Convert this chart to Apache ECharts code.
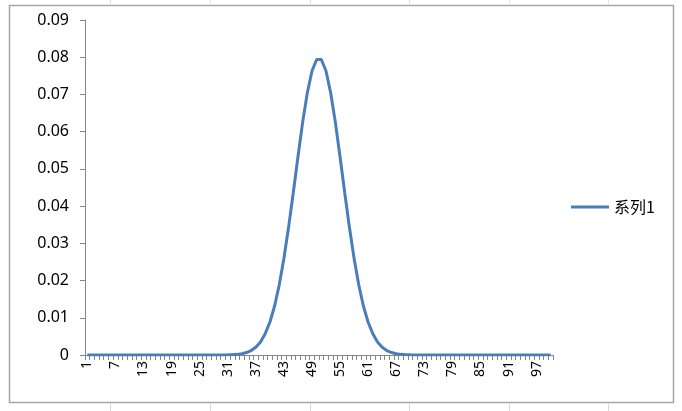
<!DOCTYPE html>
<html>
<head>
<meta charset="utf-8">
<script src="https://cdn.jsdelivr.net/npm/echarts@6/dist/echarts.min.js"></script>
<style>
html,body{margin:0;padding:0;background:#fff;}
#c{width:682px;height:411px;}
</style>
</head>
<body>
<div id="c"></div>
<script>
// Categories 1..100 (row numbers shown on the x axis)
var categories = [];
for (var i = 1; i <= 100; i++) categories.push(String(i));

var seriesName = '系列1';
// values (bell curve peaking near 0.079 at 50/51)
var values = [
  0,0,0,0,0,0,0,0,0,0,
  0,0,0,0,0,0,0,0,0,0,
  0,0,0,0,0,0,0,0,0,0,
  0.00004,0.00009,0.00017,0.00034,0.00065,0.0012,0.0021,0.0035,0.0057,0.0088,
  0.0131,0.0188,0.0259,0.0343,0.0436,0.0532,0.0625,0.0704,0.0763,0.0794,
  0.0794,0.0763,0.0704,0.0625,0.0532,0.0436,0.0343,0.0259,0.0188,0.0131,
  0.0088,0.0057,0.0035,0.0021,0.0012,0.00065,0.00034,0.00017,0.00009,0.00004,
  0,0,0,0,0,0,0,0,0,0,
  0,0,0,0,0,0,0,0,0,0,
  0,0,0,0,0,0,0,0,0,0
];
var yTicks = { min: 0, max: 0.09, interval: 0.01 };

var sheetLines = [];
[110, 210, 310, 409, 509, 608].forEach(function (x) {
  sheetLines.push({ type: 'line', shape: { x1: x + 0.5, y1: 403, x2: x + 0.5, y2: 411 },
    style: { stroke: '#d9d9d9', lineWidth: 1 }, z: 0 });
  sheetLines.push({ type: 'line', shape: { x1: x + 0.5, y1: 0, x2: x + 0.5, y2: 5 },
    style: { stroke: '#e3e3e3', lineWidth: 1 }, z: 0 });
});

var chart = echarts.init(document.getElementById('c'), null, {renderer: 'canvas'});
chart.setOption({
  animation: false,
  backgroundColor: '#ffffff',
  graphic: [
    { type: 'rect', shape: { x: 9.5, y: 5.5, width: 664, height: 397 },
      style: { fill: null, stroke: '#a6a6a6', lineWidth: 1.5 }, z: 0 }
  ].concat(sheetLines),
  grid: { left: 85, right: 129, top: 20, bottom: 56, containLabel: false },
  legend: {
    data: [seriesName],
    left: 566, top: 194,
    itemWidth: 38, itemHeight: 14,
    icon: 'path://M0,5.5 L38,5.5 L38,8.5 L0,8.5 Z',
    textStyle: { fontSize: 16, color: '#000', fontFamily: 'Noto Sans CJK SC' },
    itemGap: 4
  },
  xAxis: {
    type: 'category',
    data: categories,
    boundaryGap: true,
    axisLine: { lineStyle: { color: '#868686', width: 1 } },
    axisTick: { show: true, interval: 0, length: 5, lineStyle: { color: '#868686' } },
    axisLabel: { interval: 5, rotate: 90, fontSize: 14, color: '#000', margin: 6,
                 fontFamily: 'Noto Sans' },
    splitLine: { show: false }
  },
  yAxis: {
    type: 'value',
    min: yTicks.min, max: yTicks.max, interval: yTicks.interval,
    axisLine: { show: true, lineStyle: { color: '#868686', width: 1 } },
    axisTick: { show: true, length: 5, lineStyle: { color: '#868686' } },
    axisLabel: { fontSize: 16, color: '#000', margin: 16, fontFamily: 'Noto Sans',
                 formatter: function (v) { return v === 0 ? '0' : v.toFixed(2); } },
    splitLine: { show: false }
  },
  series: [{
    name: seriesName,
    type: 'line',
    data: values,
    symbol: 'none',
    smooth: false,
    lineStyle: { color: '#4a7ebb', width: 3 },
    itemStyle: { color: '#4a7ebb' }
  }]
});
</script>
</body>
</html>
